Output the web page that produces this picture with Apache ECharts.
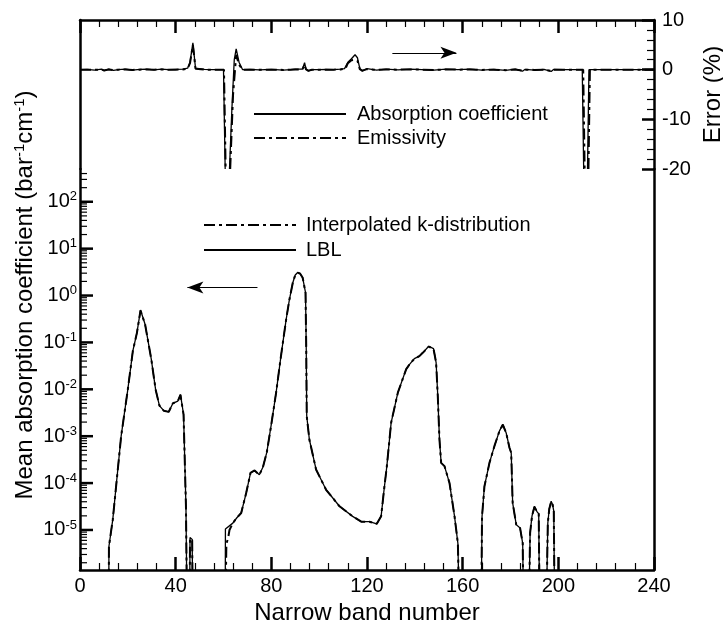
<!DOCTYPE html>
<html>
<head>
<meta charset="utf-8">
<script src="https://cdn.jsdelivr.net/npm/echarts@6/dist/echarts.min.js"></script>
<style>
html,body{margin:0;padding:0;background:#fff;}
#chart{width:723px;height:620px;}
</style>
</head>
<body>
<div id="chart"></div>
<script>
// ---------- DATA ----------
// Bottom panel: mean absorption coefficient (bar^-1 cm^-1) vs narrow band number
// null = gap; 1e-7 = falls below the axis (value ~ 0)
var lblBand = [12,12.1,13.7,17.2,20,22.1,23.8,25.3,27.2,29.8,31.6,33.2,35,37.1,38.8,40.9,42,43.3,44.3,44.8,
  45.2,
  45.8,46,46.9,47.2,
  48,
  60.7,60.8,63.9,65.5,67.4,69.5,71.3,73,75,76.5,78.1,80,82,84,86.2,87.5,89,90,91,92,93.1,94.3,94.6,94.8,95.9,98.7,102.9,108.5,114,117.6,121,124.1,125.9,127,128.3,130.1,132.9,136.4,137.8,139.8,141.9,143.3,145.8,147.8,148.9,149.6,150.3,151,152.4,154.5,156.6,158,158.7,
  163,
  167.7,168.1,169.1,171.2,173.3,175.4,176.8,178.2,179.6,180.3,180.9,182.4,184,185.1,185.5,
  186.5,
  187.6,188.2,189,190,191,191.8,192.2,
  193.5,
  194.9,195.6,196.2,197,197.6,198.1,198.5];
var lblK = [1e-7,4.5e-6,1.66e-5,1.0e-3,1.0e-2,6.6e-2,0.16,0.49,0.245,0.044,0.010,4.5e-3,3.5e-3,3.3e-3,5.0e-3,5.6e-3,7.8e-3,2.9e-3,3.2e-5,1e-7,
  null,
  1e-7,6.9e-6,6.3e-6,1e-7,
  null,
  1e-7,1.05e-5,1.4e-5,1.8e-5,2.3e-5,6.2e-5,1.66e-4,1.86e-4,1.5e-4,2.2e-4,4.5e-4,1.8e-3,8.5e-3,0.05,0.31,0.79,1.9,2.75,3.1,2.95,2.4,1.15,0.071,2.7e-3,8.5e-4,1.95e-4,7.2e-5,3.2e-5,1.95e-5,1.5e-5,1.5e-5,1.35e-5,1.95e-5,6.3e-5,2.3e-4,1.95e-3,8.5e-3,0.027,0.034,0.045,0.051,0.06,0.083,0.074,0.037,7.1e-3,8.5e-4,2.7e-4,2.3e-4,1.0e-4,1.95e-5,5.2e-6,1e-7,
  null,
  1e-7,1.95e-5,8.5e-5,2.7e-4,6.2e-4,1.3e-3,1.8e-3,1.17e-3,5.6e-4,4.4e-4,3.8e-5,1.3e-5,1.1e-5,5.2e-6,1e-7,
  null,
  1e-7,8.7e-6,2.0e-5,3.2e-5,2.5e-5,2.2e-5,1e-7,
  null,
  1e-7,1.4e-5,2.8e-5,4.1e-5,3.5e-5,2.5e-5,1e-7];

var kdBand = [12,12.1,13.7,17.2,20,22.1,23.8,25.3,27.2,29.8,31.6,33.2,35,37.1,38.8,40.9,42,43.3,44.3,44.8,
  45.2,
  45.8,46,46.9,47.2,
  48,
  60.7,61.2,62,62.5,63.9,65.5,67.4,69.5,71.3,73,75,76.5,78.1,80,82,84,86.2,87.5,89,90,91,92,93.1,94.3,94.6,94.8,95.9,98.7,102.9,108.5,114,117.6,121,124.1,125.9,127,128.3,130.1,132.9,136.4,137.8,139.8,141.9,143.3,145.8,147.8,148.9,149.6,150.3,151,152.4,154.5,156.6,158,158.7,
  163,
  167.7,168.1,169.1,171.2,173.3,175.4,176.8,178.2,179.6,180.3,180.9,182.4,184,185.1,185.5,
  186.5,
  187.6,188.2,189,190,191,191.8,192.2,
  193.5,
  194.9,195.6,196.2,197,197.6,198.1,198.5];
var kdK = [1e-7,4.5e-6,1.66e-5,1.0e-3,1.0e-2,6.6e-2,0.16,0.48,0.245,0.044,0.010,4.5e-3,3.5e-3,3.3e-3,5.0e-3,5.6e-3,7.6e-3,2.9e-3,3.2e-5,1e-7,
  null,
  1e-7,6.6e-6,6.0e-6,1e-7,
  null,
  1e-7,5.0e-6,7.0e-6,1.0e-5,1.4e-5,1.8e-5,2.3e-5,6.2e-5,1.66e-4,1.86e-4,1.5e-4,2.2e-4,4.5e-4,1.8e-3,8.5e-3,0.05,0.31,0.79,1.9,2.75,3.05,2.95,2.4,1.15,0.071,2.7e-3,8.5e-4,1.95e-4,7.2e-5,3.2e-5,1.95e-5,1.5e-5,1.5e-5,1.35e-5,1.95e-5,6.3e-5,2.3e-4,1.95e-3,8.5e-3,0.027,0.034,0.045,0.051,0.06,0.081,0.074,0.037,7.1e-3,8.5e-4,2.7e-4,2.3e-4,1.0e-4,1.95e-5,5.2e-6,1e-7,
  null,
  1e-7,1.95e-5,8.5e-5,2.7e-4,6.2e-4,1.3e-3,1.75e-3,1.17e-3,5.6e-4,4.4e-4,3.8e-5,1.3e-5,1.1e-5,5.2e-6,1e-7,
  null,
  1e-7,8.7e-6,2.0e-5,3.1e-5,2.5e-5,2.2e-5,1e-7,
  null,
  1e-7,1.4e-5,2.8e-5,4.0e-5,3.5e-5,2.5e-5,1e-7];

// Top panel: error (%) vs narrow band number
var absBand = [0,3,6,9,10,12,14,16,19,22,25,28,31,34,37,40,43,45,46,47.2,48.3,49,52,55,58,60,60.7,
  61.6,
  62.5,63.5,64.5,65.3,66.5,68,71,75,80,85,88,90,93,93.9,94.5,95.5,97,100,103,106,109,110.6,112,113.5,115,116,117,118,120,124,128,133,138,143,148,153,158,163,168,173,178,182,185,186,190,194,197,198,202,206,210,210.6,
  211.4,
  212.2,212.8,216,220,225,230,235,240];
var absErr = [0,0.05,-0.1,0.1,-0.2,0.1,-0.15,0,0.1,-0.1,0.05,0.1,-0.05,0.1,0,0.05,0.1,0.3,1.5,5.4,0.3,0,0.05,0,0,0,-20,
  null,
  -20,-8,2,4.2,1.5,0,0.05,-0.05,0.05,-0.1,0,0.1,0.1,1.4,0.1,-0.3,0,0,0.05,0,0.1,0.2,1.5,2.2,3.0,2.4,0.2,-0.3,0.2,-0.1,0.1,-0.05,0.1,0,-0.1,0.1,0,0.1,-0.1,0.05,-0.15,0.1,-0.3,0.05,-0.1,0.05,-0.35,0.05,0,0,0,-20,
  null,
  -20,0,0,0,0,0,0,0];

var emiBand = [0,3,6,9,10,12,14,16,19,22,25,28,31,34,37,40,43,45,46,47.2,48.3,49,52,55,58,60.2,60.9,
  61.8,
  62.8,64,65.3,66.5,68,71,75,80,85,88,90,93,93.9,94.5,95.5,97,100,103,106,109,111,112,113.5,115,116,117,118,120,124,128,133,138,143,148,153,158,163,168,173,178,182,185,186,190,194,197,198,202,206,210.4,211,
  211.8,
  212.6,213.2,216,220,225,230,235,240];
var emiErr = [0,0,-0.05,0.05,-0.15,0.05,-0.1,0,0.05,-0.05,0,0.05,0,0.05,0,0,0.05,0.2,1.3,5.0,0.2,0,0,0,0,0,-20,
  null,
  -20,-5,3.0,1.0,0,0,0,0,-0.05,0,0.05,0.05,1.0,0.05,-0.2,0,0,0,0,0.05,0.2,1.3,1.9,2.0,1.8,0.1,-0.2,0.1,-0.05,0.05,0,0.05,0,-0.05,0.05,0,0.05,-0.05,0,-0.1,0.05,-0.2,0,-0.05,0,-0.25,0,0,0,0,-20,
  null,
  -20,0,0,0,0,0,0,0];

// Axis ticks
var logMajor = [1e-5,1e-4,1e-3,1e-2,1e-1,1,10,100];
var logMinor = [];
[1e-6,1e-5,1e-4,1e-3,1e-2,1e-1,1,10,100].forEach(function(d){
  for (var m = 2; m <= 9; m++) { var v = m*d; if (v > 1.4e-6 && v < 500) logMinor.push(v); }
});
// Annotation arrows (data coordinates)
var arrowTop = [[130.6, 3.4],[157.4, 3.4]];
var arrowBottom = [[74.2, 1.48],[44.9, 1.48]];

// ---------- CHART ----------
function pairs(xs, ys){ return xs.map(function(x,i){ return [x, ys[i]]; }); }
var FONT = '"Liberation Sans", Arial, Helvetica, sans-serif';
var black = '#000';
var dashDot = [11,4,3,4];

var tickData = logMajor.map(function(v){ return [0, v, 1]; })
  .concat(logMinor.map(function(v){ return [0, v, 0]; }));

var chart = echarts.init(document.getElementById('chart'), null, {renderer:'canvas'});
var xCommon = {
  type:'value', min:0, max:240, interval:40,
  axisLine:{show:true, onZero:false, lineStyle:{color:black, width:2.5}},
  axisTick:{show:true, inside:true, length:13, lineStyle:{color:black, width:2.5}},
  minorTick:{show:true, splitNumber:5, length:7, lineStyle:{color:black, width:1.2}},
  splitLine:{show:false}, minorSplitLine:{show:false}
};
var option = {
  animation:false,
  backgroundColor:'#fff',
  textStyle:{fontFamily:FONT, color:black},
  grid:[
    {left:80, right:69, top:20, height:149, outerBoundsMode:'none', containLabel:false},
    {left:80, right:69, top:169, bottom:50, outerBoundsMode:'none', containLabel:false},
    {left:80, right:69, top:20, bottom:50, outerBoundsMode:'none', containLabel:false}
  ],
  legend:[
    {data:['Absorption coefficient','Emissivity'], orient:'vertical', left:248, top:99,
     itemWidth:92, itemHeight:14, itemGap:4,
     itemStyle:{opacity:0, borderWidth:0},
     textStyle:{fontFamily:FONT, fontSize:20, color:black, lineHeight:20, padding:[0,0,0,6]}},
    {data:['Interpolated k-distribution','LBL'], orient:'vertical', left:198, top:210,
     itemWidth:92, itemHeight:14, itemGap:5,
     itemStyle:{opacity:0, borderWidth:0},
     textStyle:{fontFamily:FONT, fontSize:20, color:black, lineHeight:20, padding:[0,0,0,5]}}
  ],
  xAxis:[
    Object.assign({}, xCommon, {gridIndex:0, position:'top', axisLabel:{show:false}}),
    Object.assign({}, xCommon, {gridIndex:1, position:'bottom',
      axisLabel:{show:true, margin:6, fontFamily:FONT, fontSize:20, color:black},
      name:'Narrow band number', nameLocation:'middle', nameGap:20,
      nameTextStyle:{fontFamily:FONT, fontSize:24, color:black}}),
    {type:'value', gridIndex:2, min:0, max:240, show:false}
  ],
  yAxis:[
    {type:'value', gridIndex:0, position:'right', min:-20, max:10, interval:10,
     axisLine:{show:true, onZero:false, lineStyle:{color:black, width:2.5}},
     axisTick:{show:true, inside:true, length:12, lineStyle:{color:black, width:2.5}},
     minorTick:{show:true, splitNumber:5, length:7, lineStyle:{color:black, width:1.2}},
     splitLine:{show:false},
     axisLabel:{show:true, margin:8, fontFamily:FONT, fontSize:20, color:black},
     name:'Error (%)', nameLocation:'middle', nameRotate:90, nameGap:44,
     nameTextStyle:{fontFamily:FONT, fontSize:24, color:black}},
    {type:'value', gridIndex:0, position:'left', min:-20, max:10,
     axisLine:{show:true, onZero:false, lineStyle:{color:black, width:2.5}},
     axisTick:{show:false}, axisLabel:{show:false}, splitLine:{show:false}},
    {type:'log', gridIndex:1, position:'left', min:1.4e-6, max:500, logBase:10,
     axisLine:{show:true, onZero:false, lineStyle:{color:black, width:2.5}},
     axisTick:{show:false},
     splitLine:{show:false},
     axisLabel:{show:true, margin:3, customValues:logMajor, fontFamily:FONT, color:black,
       formatter:function(v){ var e = Math.round(Math.log10(v)); return '{b|10}{s|' + e + '}'; },
       rich:{b:{fontFamily:FONT, fontSize:20, color:black},
             s:{fontFamily:FONT, fontSize:13, color:black, padding:[0,0,10,0]}}}},
    {type:'value', gridIndex:1, position:'right', min:0, max:1,
     axisLine:{show:true, onZero:false, lineStyle:{color:black, width:2.5}},
     axisTick:{show:false}, axisLabel:{show:false}, splitLine:{show:false}},
    {type:'value', gridIndex:2, position:'left', min:0, max:1,
     axisLine:{show:false}, axisTick:{show:false}, axisLabel:{show:false}, splitLine:{show:false},
     name:'Mean absorption coefficient (bar{s|-1}cm{s|-1})', nameLocation:'middle', nameRotate:90, nameGap:41,
     nameTextStyle:{fontFamily:FONT, fontSize:24, color:black,
       rich:{s:{fontFamily:FONT, fontSize:15, color:black, padding:[0,0,12,0]}}}}
  ],
  series:[
    {name:'Absorption coefficient', type:'line', xAxisIndex:0, yAxisIndex:0,
     data:pairs(absBand, absErr), showSymbol:false, symbol:'none', connectNulls:false, clip:true,
     lineStyle:{color:black, width:1.3}, itemStyle:{color:black}, z:3},
    {name:'Emissivity', type:'line', xAxisIndex:0, yAxisIndex:0,
     data:pairs(emiBand, emiErr), showSymbol:false, symbol:'none', connectNulls:false, clip:true,
     lineStyle:{color:black, width:2, type:dashDot}, itemStyle:{color:black}, z:2,
     markLine:{silent:true, symbol:['none','arrow'], symbolSize:[9,16], label:{show:false},
       lineStyle:{color:black, width:1.2, type:'solid'},
       data:[[{coord:arrowTop[0]},{coord:arrowTop[1]}]]}},
    {name:'Interpolated k-distribution', type:'line', xAxisIndex:1, yAxisIndex:2,
     data:pairs(kdBand, kdK), showSymbol:false, symbol:'none', connectNulls:false, clip:true,
     lineStyle:{color:black, width:2, type:dashDot}, itemStyle:{color:black}, z:2,
     markLine:{silent:true, symbol:['none','arrow'], symbolSize:[9,16], label:{show:false},
       lineStyle:{color:black, width:1.2, type:'solid'},
       data:[[{coord:arrowBottom[0]},{coord:arrowBottom[1]}]]}},
    {name:'LBL', type:'line', xAxisIndex:1, yAxisIndex:2,
     data:pairs(lblBand, lblK), showSymbol:false, symbol:'none', connectNulls:false, clip:true,
     lineStyle:{color:black, width:1.3}, itemStyle:{color:black}, z:3},
    {name:'logTicks', type:'custom', xAxisIndex:1, yAxisIndex:2, silent:true, clip:false, z:5,
     data:tickData,
     renderItem:function(params, api){
       var p = api.coord([api.value(0), api.value(1)]);
       var major = api.value(2) === 1;
       var len = major ? 13 : 7;
       return {type:'line', shape:{x1:p[0], y1:p[1], x2:p[0]+len, y2:p[1]},
               style:{stroke:black, lineWidth: major ? 2.5 : 1.2}};
     }}
  ]
};
chart.setOption(option);
</script>
</body>
</html>
